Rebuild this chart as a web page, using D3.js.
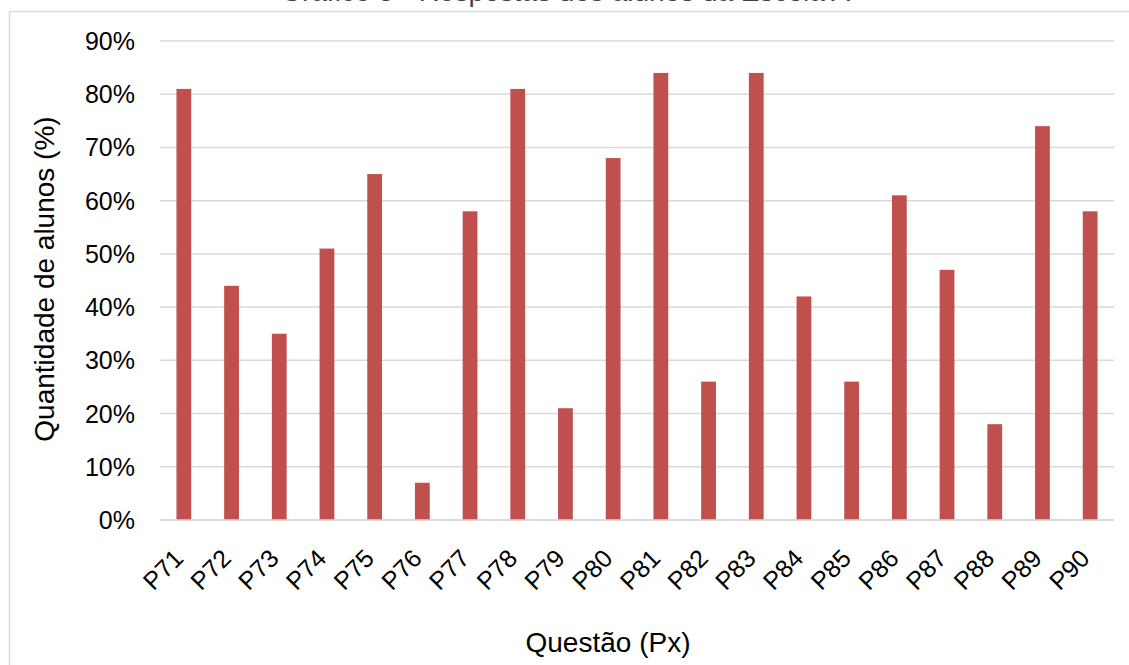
<!DOCTYPE html>
<html><head><meta charset="utf-8">
<script src="https://cdn.jsdelivr.net/npm/d3@7"></script>
<style>body{margin:0;background:#fff}svg{display:block}</style>
</head><body>
<svg id="c" width="1129" height="665"></svg>
<script>
const categories = ["P71","P72","P73","P74","P75","P76","P77","P78","P79","P80","P81","P82","P83","P84","P85","P86","P87","P88","P89","P90"];
const values = [81,44,35,51,65,7,58,81,21,68,84,26,84,42,26,61,47,18,74,58];
const yTicks = [0,10,20,30,40,50,60,70,80,90];
const title = "Gráfico 5 - Respostas dos alunos da Escola A";
const xTitle = "Questão (Px)";
const yTitle = "Quantidade de alunos (%)";

const svg = d3.select("#c");
const font = "'Liberation Sans', Arial, sans-serif";
// outer chart border
svg.append("rect").attr("x",9.5).attr("y",11.5).attr("width",1130).attr("height",670)
  .attr("fill","#fff").attr("stroke","#d9d9d9").attr("stroke-width",1.5);
svg.append("text").attr("x",565).attr("y",1).attr("text-anchor","middle")
  .attr("font-family",font).attr("font-size",28).attr("fill","#404040").text(title);

const x0 = 160, x1 = 1114, yTop = 41, yBot = 520;
const x = d3.scaleBand().domain(categories).range([x0,x1]).paddingInner(0.69).paddingOuter(0.345);
const y = d3.scaleLinear().domain([0,90]).range([yBot,yTop]);

svg.append("g").selectAll("line").data(yTicks).join("line")
  .attr("x1",x0).attr("x2",x1).attr("y1",d=>y(d)).attr("y2",d=>y(d))
  .attr("stroke","#d9d9d9").attr("stroke-width",1.5);

svg.append("g").selectAll("text").data(yTicks).join("text")
  .attr("x",135).attr("y",d=>y(d)+9).attr("text-anchor","end")
  .attr("font-family",font).attr("font-size",25).attr("fill","#000").text(d=>d+"%");

svg.append("g").selectAll("rect").data(values).join("rect")
  .attr("x",(d,i)=>x(categories[i])).attr("width",x.bandwidth())
  .attr("y",d=>y(d)).attr("height",d=>yBot-y(d)).attr("fill","#C0504D");

svg.append("line").attr("x1",x0).attr("x2",x1).attr("y1",yBot).attr("y2",yBot)
  .attr("stroke","#d9d9d9").attr("stroke-width",1.5);

svg.append("g").selectAll("text").data(categories).join("text")
  .attr("transform",d=>`translate(${x(d)+x.bandwidth()/2+1},${yBot+40}) rotate(-45)`)
  .attr("text-anchor","end")
  .attr("font-family",font).attr("font-size",25).attr("fill","#000").text(d=>d);

svg.append("text").attr("x",608).attr("y",652).attr("text-anchor","middle")
  .attr("font-family",font).attr("font-size",28).attr("fill","#000").text(xTitle);
svg.append("text").attr("transform","translate(54,279) rotate(-90)").attr("text-anchor","middle")
  .attr("font-family",font).attr("font-size",28).attr("fill","#000").text(yTitle);
</script>
</body></html>
